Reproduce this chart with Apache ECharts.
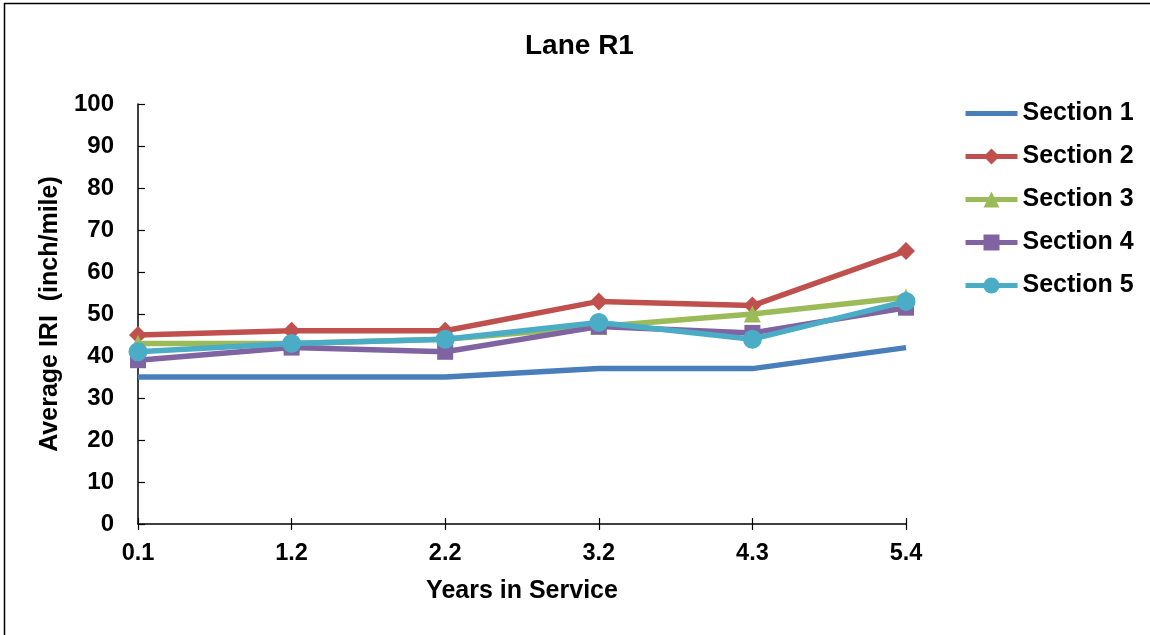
<!DOCTYPE html>
<html>
<head>
<meta charset="utf-8">
<script src="https://cdn.jsdelivr.net/npm/echarts@6/dist/echarts.min.js"></script>
<style>
html,body{margin:0;padding:0;background:#fff;}
#c{width:1150px;height:635px;}
</style>
</head>
<body>
<div id="c"></div>
<script>
const years = ['0.1', '1.2', '2.2', '3.2', '4.3', '5.4'];
const section1 = [35, 35, 35, 37, 37, 42];
const section2 = [45, 46, 46, 53, 52, 65];
const section3 = [43, 43, 44, 47, 50, 54];
const section4 = [39, 42, 41, 47, 45.5, 51.5];
const section5 = [41, 43, 44, 48, 44, 53];
const seriesNames = ['Section 1', 'Section 2', 'Section 3', 'Section 4', 'Section 5'];

const FONT = '"Liberation Sans", Arial, sans-serif';
const colors = ['#4A7EBB', '#C0504D', '#9BBB59', '#8064A2', '#4BACC6'];
const symbols = ['none', 'diamond', 'triangle', 'rect', 'circle'];
const symbolSizes = [0, 18, 17, 16, 19];
const dataSets = [section1, section2, section3, section4, section5];

const chart = echarts.init(document.getElementById('c'), null, {renderer: 'canvas'});
chart.setOption({
  animation: false,
  backgroundColor: '#fff',
  textStyle: {fontFamily: FONT},
  title: {
    text: 'Lane R1',
    left: 520,
    top: 27,
    textStyle: {fontFamily: FONT, fontSize: 28, fontWeight: 'bold', color: '#000'}
  },
  legend: {
    orient: 'vertical',
    left: 963,
    top: 101,
    padding: 0,
    itemWidth: 52,
    itemHeight: 20,
    itemGap: 18,
    lineStyle: {width: 5},
    data: seriesNames.map((n, i) => i === 0 ? {name: n, itemStyle: {opacity: 0}} : {name: n}),
    textStyle: {fontFamily: FONT, fontSize: 25, fontWeight: 'bold', color: '#000'}
  },
  grid: {left: 138, right: 244, top: 104, bottom: 111},
  xAxis: [{
    type: 'category',
    data: years,
    boundaryGap: false,
    name: 'Years in Service',
    nameLocation: 'middle',
    nameGap: 55,
    nameTextStyle: {fontFamily: FONT, fontSize: 25, fontWeight: 'bold', color: '#000'},
    axisLine: {lineStyle: {color: '#000', width: 1.5}},
    axisTick: {show: true, alignWithLabel: true, length: 6, lineStyle: {color: '#000', width: 1.2}},
    axisLabel: {fontFamily: FONT, fontSize: 23.5, fontWeight: 'bold', color: '#000', margin: 18},
    splitLine: {show: false}
  }, {
    type: 'category',
    data: years,
    boundaryGap: false,
    position: 'bottom',
    axisLine: {show: false},
    axisTick: {show: true, inside: true, length: 6, lineStyle: {color: '#000', width: 1.2}},
    axisLabel: {show: false},
    splitLine: {show: false}
  }],
  yAxis: {
    type: 'value',
    min: 0,
    max: 100,
    interval: 10,
    name: 'Average IRI  (inch/mile)',
    nameLocation: 'middle',
    nameGap: 73,
    nameRotate: 90,
    nameTextStyle: {fontFamily: FONT, fontSize: 25, fontWeight: 'bold', color: '#000'},
    axisLine: {show: true, lineStyle: {color: '#000', width: 1.5}},
    axisTick: {show: true, inside: true, length: 7, lineStyle: {color: '#000', width: 1.2}},
    axisLabel: {fontFamily: FONT, fontSize: 24, fontWeight: 'bold', color: '#000', margin: 24},
    splitLine: {show: false}
  },
  graphic: [
    {type: 'line', shape: {x1: 4, y1: 3.5, x2: 1150, y2: 3.5}, style: {stroke: '#000', lineWidth: 1.5}},
    {type: 'line', shape: {x1: 4.5, y1: 3, x2: 4.5, y2: 635}, style: {stroke: '#000', lineWidth: 1.5}}
  ],
  series: seriesNames.map((n, i) => ({
    name: n,
    type: 'line',
    data: dataSets[i],
    symbol: symbols[i],
    symbolSize: symbolSizes[i],
    showAllSymbol: true,
    lineStyle: {color: colors[i], width: 5.5},
    itemStyle: {color: colors[i], borderWidth: 0},
    z: 2 + i
  }))
});
</script>
</body>
</html>
